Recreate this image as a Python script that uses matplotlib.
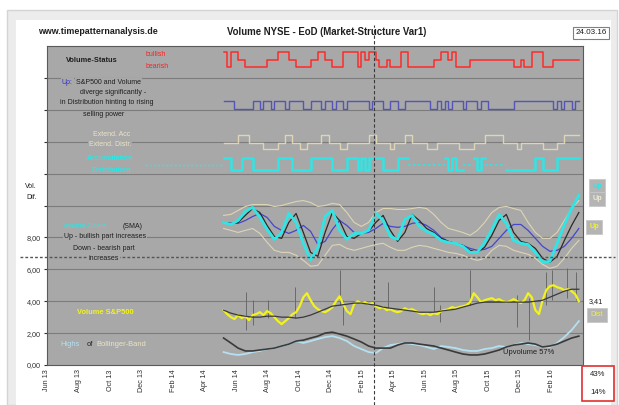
import matplotlib
matplotlib.use("Agg")
import matplotlib.pyplot as plt
import matplotlib.dates as mdates
from matplotlib.patches import Rectangle
import numpy as np
import pandas as pd

plt.rcParams["font.family"] = ["Liberation Sans", "DejaVu Sans"]

W, H = 619, 405
AXBG = "#a8a8a8"
DARK = "#1e1e1e"
CYAN = "#2ee6e6"
BEIGE = "#ddd5b4"
YELLOW = "#f2f21e"
LBLUE = "#b4e0f0"

# ---------------- data ----------------
week_dates = pd.date_range("2014-05-08", periods=99, freq="7D")
half_dates = pd.date_range("2014-05-08", periods=50, freq="14D")

# status lines, one code per week
red_levels = {"H": 19.65, "M": 19.15, "L": 18.7}
red_codes = ("HLHHMMLLLL" "LLMMMHHHMM" "LLLLMMHHMM" "LLLHHHHLHM" "HHMLLMLLLH"
             "HLLLLLLLMM" "HHMHLLLLMM" "MMMMMMMMMM" "LLMLLHHHLL" "LMMMMMMMM")
blue_levels = {"H": 16.58, "L": 16.06}
blue_codes = ("HHHLLLLLHH" "LHHLHHHLHH" "HHLLHHHLHH" "LHHLHHHHHH" "LHHHLLHHLL"
              "HHHHHHHLLH" "LHLHHHLHHH" "LHHLLLLLLL" "HHHHHHHHHH" "HLHLHHLHH")
ext_levels = {"U": 14.4, "M": 13.9, "D": 13.55}
ext_codes = ("MMMMUUUMMM" "MDDDDMMUUM" "MDDMMMMUUM" "MMDDMMMMMM" "UUMMMMDMMM"
             "UUMMMMDDDM" "MMMMMDDDDM" "MMUUUUUMMM" "MDMMMMMMDD" "DDMMUUUUU")
acc_levels = {"A": 12.95, "N": 12.55, "D": 12.2}
acc_codes = ("AADDDAAADD" "DDDDDAAAAD" "DDDDAAAAAA" "DDDDAAADAD" "AAAADDDDAA"
             "ANNNNNNNNN" "NADADDNNNA" "DANNNNNNDD" "DDDDDDAADD" "DDAAAAAAA")
acc_lead_dates = pd.to_datetime(["2013-12-07", "2014-05-08"])

# volume-share oscillator (14-day samples)
share_sma = [8.94, 8.81, 9.06, 9.63, 9.88, 9.25, 8.50, 7.88, 8.31, 9.50,
             8.94, 7.63, 6.56, 7.38, 9.31, 9.69, 8.44, 7.88, 8.25, 8.25,
             8.44, 9.50, 9.06, 8.06, 7.88, 9.13, 9.38, 8.69, 8.38, 8.19,
             7.81, 7.69, 7.63, 7.44, 7.06, 7.06, 7.69, 8.50, 9.44, 8.88,
             7.81, 7.63, 7.56, 7.06, 6.44, 6.50, 7.63, 8.81, 9.81, 10.63]
share_raw = [8.94, 8.88, 8.94, 9.38, 9.81, 9.56, 8.75, 8.06, 7.94, 8.94,
             9.50, 8.31, 7.06, 6.81, 8.31, 9.56, 9.06, 8.06, 7.94, 8.25,
             8.38, 8.94, 9.38, 8.44, 7.75, 8.31, 9.44, 9.06, 8.56, 8.31,
             7.94, 7.75, 7.63, 7.50, 7.19, 7.06, 7.38, 8.13, 9.06, 9.44,
             8.31, 7.75, 7.63, 7.31, 6.69, 6.44, 6.81, 7.81, 8.75, 9.56]
share_slow = [8.94, 8.88, 8.88, 9.06, 9.31, 9.50, 9.25, 8.69, 8.44, 8.25,
              8.44, 8.75, 8.38, 7.56, 7.75, 8.50, 9.06, 8.75, 8.31, 8.25,
              8.31, 8.56, 8.88, 8.69, 8.63, 8.69, 8.88, 8.94, 8.75, 8.44,
              8.00, 7.75, 7.63, 7.50, 7.31, 7.19, 7.25, 7.44, 7.94, 8.44,
              8.81, 8.81, 8.44, 7.94, 7.44, 7.13, 7.19, 7.44, 7.94, 8.56]
band_upper = [9.38, 9.44, 9.69, 9.94, 10.06, 10.06, 10.06, 9.94, 10.00, 10.13,
              10.25, 10.31, 10.19, 9.94, 10.00, 10.13, 10.06, 9.56, 8.94, 8.69,
              8.94, 9.56, 9.81, 9.81, 9.75, 9.75, 9.81, 9.88, 9.81, 9.44,
              8.94, 8.56, 8.44, 8.31, 8.13, 8.44, 8.94, 9.56, 9.88, 9.94,
              9.81, 9.69, 8.94, 8.31, 7.94, 7.94, 8.31, 9.06, 9.81, 10.31]
band_lower = [8.56, 8.44, 8.31, 8.44, 8.56, 8.25, 7.69, 7.19, 7.06, 7.06,
              6.88, 6.56, 6.19, 6.25, 6.88, 7.50, 7.56, 7.31, 7.19, 7.31,
              7.44, 7.56, 7.63, 7.38, 7.19, 7.19, 7.38, 7.50, 7.44, 7.31,
              7.19, 7.06, 7.00, 6.88, 6.69, 6.56, 6.69, 7.19, 7.50, 7.44,
              7.19, 7.06, 6.94, 6.69, 6.31, 6.06, 6.19, 6.69, 7.31, 7.81]

# S&P500 volume (weekly) and its average
spx_volume = [3.44, 3.19, 3.00, 2.88, 3.13, 2.94, 3.06, 2.81, 3.13, 3.19,
              3.31, 3.13, 3.38, 3.25, 3.00, 2.75, 2.56, 2.75, 2.94, 3.19,
              3.31, 3.69, 4.25, 4.50, 4.06, 3.69, 3.50, 3.38, 3.31, 3.44,
              3.63, 4.00, 4.31, 3.81, 3.38, 3.19, 3.81, 4.00, 3.88, 3.94,
              3.81, 3.88, 3.69, 3.56, 3.63, 3.44, 3.50, 3.38, 3.31, 3.38,
              3.56, 3.44, 3.50, 3.38, 3.25, 3.19, 3.25, 3.13, 3.25, 3.19,
              3.38, 3.44, 3.50, 3.63, 3.56, 3.63, 3.69, 3.75, 3.94, 4.50,
              4.25, 3.94, 4.06, 4.13, 4.19, 4.06, 4.13, 4.00, 3.94, 4.00,
              4.13, 4.00, 3.88, 4.06, 4.50, 4.25, 3.44, 3.19, 4.06, 4.69,
              4.94, 5.00, 4.88, 4.81, 4.69, 4.75, 4.63, 4.44, 4.00]
spx_avg = [3.44, 3.25, 3.13, 3.06, 3.00, 3.00, 3.06, 3.06, 3.00, 3.00,
           2.94, 3.00, 3.13, 3.31, 3.50, 3.69, 3.75, 3.81, 3.88, 3.88,
           3.81, 3.75, 3.63, 3.56, 3.50, 3.44, 3.38, 3.31, 3.31, 3.31,
           3.38, 3.44, 3.50, 3.63, 3.75, 3.88, 3.94, 3.94, 3.94, 3.94,
           3.94, 3.94, 3.94, 4.00, 4.06, 4.25, 4.44, 4.63, 4.75, 4.75]
spike_dates = pd.to_datetime(["2014-06-21", "2014-07-03", "2014-08-01", "2014-09-22",
                              "2014-12-18", "2014-12-24", "2015-03-22", "2015-06-19",
                              "2015-06-29", "2015-08-26", "2015-11-26", "2015-12-18",
                              "2016-01-21", "2016-02-02", "2016-03-02", "2016-03-19"])
spike_low = [2.19, 2.50, 2.94, 2.94, 3.75, 2.50, 3.44, 3.31,
             2.69, 3.75, 2.38, 1.56, 3.75, 4.06, 4.19, 4.06]
spike_high = [4.56, 4.06, 4.06, 4.88, 5.94, 4.06, 5.19, 4.88,
              3.75, 5.94, 4.38, 4.19, 5.81, 5.94, 6.06, 5.81]

# Bollinger-band highs
bb_highs = [0.81, 0.69, 0.63, 0.69, 0.81, 0.88, 1.00, 1.06, 1.19, 1.31,
            1.50, 1.38, 1.50, 1.63, 1.75, 1.81, 1.69, 1.50, 1.19, 1.00,
            0.81, 0.75, 1.06, 1.25, 1.31, 1.38, 1.31, 1.25, 1.13, 1.00,
            1.19, 1.13, 1.06, 0.94, 0.88, 0.88, 1.00, 1.06, 1.19, 1.13,
            1.25, 1.38, 1.31, 1.25, 1.13, 1.13, 1.38, 1.75, 2.19, 2.75]
bb_base = [1.69, 1.38, 1.06, 0.88, 0.88, 0.94, 1.00, 1.06, 1.19, 1.31,
           1.50, 1.56, 1.69, 1.81, 2.00, 2.06, 1.94, 1.81, 1.63, 1.44,
           1.19, 1.06, 1.06, 1.06, 1.25, 1.38, 1.38, 1.31, 1.25, 1.19,
           1.06, 0.94, 0.81, 0.69, 0.63, 0.63, 0.69, 0.81, 0.94, 1.13,
           1.25, 1.31, 1.38, 1.31, 1.13, 1.19, 1.31, 1.50, 1.69, 1.81]

split_date = pd.Timestamp("2015-02-22")
tick_dates = pd.date_range("2013-06-01", "2016-02-01", freq="2MS")


def fx(x):
    return x / W


def fy(y):
    return 1 - y / H


# ---------------- figure ----------------
fig = plt.figure(figsize=(W / 100, H / 100), dpi=100)
fig.patches.append(Rectangle((fx(7), 0), fx(617) - fx(7), fy(10), transform=fig.transFigure,
                             fc="#ececec", ec="#d4d4d4", lw=1.0, zorder=-10))
fig.patches.append(Rectangle((fx(16), 0), fx(611) - fx(16), fy(20), transform=fig.transFigure,
                             fc="white", ec="none", zorder=-9))

ax = fig.add_axes([fx(47), fy(365), (583 - 47) / W, (365 - 46) / H])
ax.set_facecolor(AXBG)
ax.set_xlim(pd.Timestamp("2013-06-01"), pd.Timestamp("2016-04-01"))
ax.set_ylim(0, 20)

for v in range(2, 20, 2):
    ax.axhline(v, color="#7c7c7c", lw=0.8, zorder=1)

# status lines
ax.step(week_dates, [red_levels[c] for c in red_codes], where="post", color="#ff2a2a", lw=1.1, zorder=3)
ax.step(week_dates, [blue_levels[c] for c in blue_codes], where="post", color="#5555b8", lw=1.0, zorder=3)
ax.step(week_dates, [ext_levels[c] for c in ext_codes], where="post", color=BEIGE, lw=1.0, zorder=3)
acc_solid = [acc_levels[c] if c != "N" else np.nan for c in acc_codes]
acc_neutral = [acc_levels["N"] if c == "N" else np.nan for c in acc_codes]
ax.step(week_dates, acc_solid, where="post", color=CYAN, lw=1.8, zorder=3)
ax.step(week_dates, acc_neutral, where="post", color=CYAN, lw=1.2, ls=(0, (1.5, 1.5)), zorder=3)
ax.plot(acc_lead_dates, [acc_levels["N"]] * 2, color=CYAN, lw=1.0, ls=(0, (1.5, 1.5)), zorder=3)

# oscillator
ax.plot(half_dates, band_upper, color=BEIGE, lw=0.8, zorder=3)
ax.plot(half_dates, band_lower, color=BEIGE, lw=0.8, zorder=3)
ax.plot(half_dates, share_slow, color="#4646cc", lw=0.9, zorder=4)
ax.plot(half_dates, share_raw, color="#2a2a2a", lw=0.9, zorder=4)
ax.plot(half_dates, share_sma, color=CYAN, lw=2.0, zorder=5)

# volume panel
ax.vlines(spike_dates, spike_low, spike_high, color="#6a6a6a", lw=0.7, zorder=3)
ax.plot(week_dates, spx_volume, color=YELLOW, lw=1.6, zorder=4)
ax.plot(half_dates, spx_avg, color="#3a3a3a", lw=0.9, zorder=5)
ax.plot(half_dates, bb_highs, color=LBLUE, lw=1.3, zorder=4)
ax.plot(half_dates, bb_base, color="#3a3a3a", lw=1.2, zorder=4)

# separators
ax.axhline(6.8, xmin=-0.05, xmax=1.06, clip_on=False, color="#555555", lw=1.0,
           ls=(0, (2, 1.5)), zorder=6)
ax.axvline(split_date, ymin=-0.125, ymax=1.066, clip_on=False, color="#3a3a3a", lw=0.8,
           ls=(0, (3, 2)), zorder=6)

# axes styling
ax.set_yticks(range(0, 20, 2))
ax.set_yticklabels([f"{v:.2f}".replace(".", ",") if v <= 8 else "" for v in range(0, 20, 2)])
ax.set_xticks(tick_dates)
ax.xaxis.set_major_formatter(mdates.DateFormatter("%b %y"))
ax.tick_params(axis="x", labelrotation=90, labelsize=5.2, colors="#303030", length=0, pad=3)
ax.tick_params(axis="y", labelsize=5.2, colors="#303030", length=2.5, pad=2)
for s in ax.spines.values():
    s.set_color("#5a5a5a")
    s.set_linewidth(0.8)


# ---------------- texts ----------------
def label(x, y, s, color=DARK, size=5, weight="normal", ha="center", box=True):
    fig.text(fx(x), fy(y), s, color=color, fontsize=size, fontweight=weight, ha=ha,
             va="center", zorder=8,
             bbox=dict(fc=AXBG, ec="none", pad=0.6) if box else None)


label(98, 31, "www.timepatternanalysis.de", size=6.4, weight="bold", box=False)
label(327, 32, "Volume NYSE - EoD (Market-Structure Var1)", size=6.9, weight="bold", box=False)
fig.text(fx(591), fy(33), "24.03.16", fontsize=5.8, color=DARK, ha="center", va="center",
         bbox=dict(fc="white", ec="#808080", lw=0.8, pad=1.8))

label(92, 60, "Volume-Status", size=5.3, weight="bold")
label(156, 55, "bullish", color="#ff2020", size=5)
label(157, 66, "bearish", color="#ff2020", size=5)

label(62, 82, "Up:", color="#3030c0", ha="left")
label(76, 82, "S&P500 and Volume", ha="left")
label(113, 92, "diverge significantly -")
label(107, 103, "in Distribution hinting to rising")
label(104, 115, "selling power")

label(112, 134, "Extend. Acc", color="#ece4c4")
label(110, 145, "Extend. Distr.", color="#ece4c4")
label(110, 158, "Accumulation", color=CYAN, weight="bold")
label(111, 170, "Distribution", color=CYAN, weight="bold")

label(31, 186, "Vol.", box=False)
label(32, 197, "Dif.", box=False)

label(63, 227, "Volume-Share", color=CYAN, ha="left")
label(123, 227, "(SMA)", ha="left")
label(105, 237, "Up - bullish part increases")
label(104, 248, "Down - bearish part")
label(104, 259, "increases")

label(105, 312, "Volume S&P500", color=YELLOW, weight="bold", box=False, size=5.4)
label(60, 345, "Highs", color=LBLUE, ha="left", size=5.4)
label(87, 345, "of", ha="left", size=5.4)
label(96, 345, "Bollinger-Band", color="#ece4c4", ha="left", size=5.4)
label(529, 353, "Upvolume 57%", box=False, size=5.4)

# right-hand boxes
box_kw = dict(fc="#b4b4b4", ec="#c8c8c8", lw=0.6, pad=2.6)
fig.text(fx(597), fy(186), "Up", color=CYAN, fontsize=5.2, ha="center", va="center",
         fontweight="bold", bbox=box_kw)
fig.text(fx(597), fy(199), "Up", color="#f0ead0", fontsize=5.2, ha="center", va="center",
         fontweight="bold", bbox=box_kw)
fig.text(fx(594), fy(227), "Up", color=YELLOW, fontsize=5.2, ha="center", va="center",
         fontweight="bold", bbox=box_kw)
fig.text(fx(596), fy(302), "3,41", color=DARK, fontsize=5.2, ha="center", va="center")
fig.text(fx(597), fy(315), "Dist", color=YELLOW, fontsize=5.2, ha="center", va="center",
         bbox=box_kw)

fig.patches.append(Rectangle((fx(582), fy(401)), fx(614) - fx(582), fy(366) - fy(401),
                             transform=fig.transFigure, fc="white", ec="#e03030", lw=1.2, zorder=5))
fig.text(fx(598), fy(374), "43%", color=DARK, fontsize=5.6, ha="center", va="center", zorder=9)
fig.text(fx(598), fy(392), "14%", color=DARK, fontsize=5.6, ha="center", va="center", zorder=9)

fig.savefig("out.png", dpi=100)
